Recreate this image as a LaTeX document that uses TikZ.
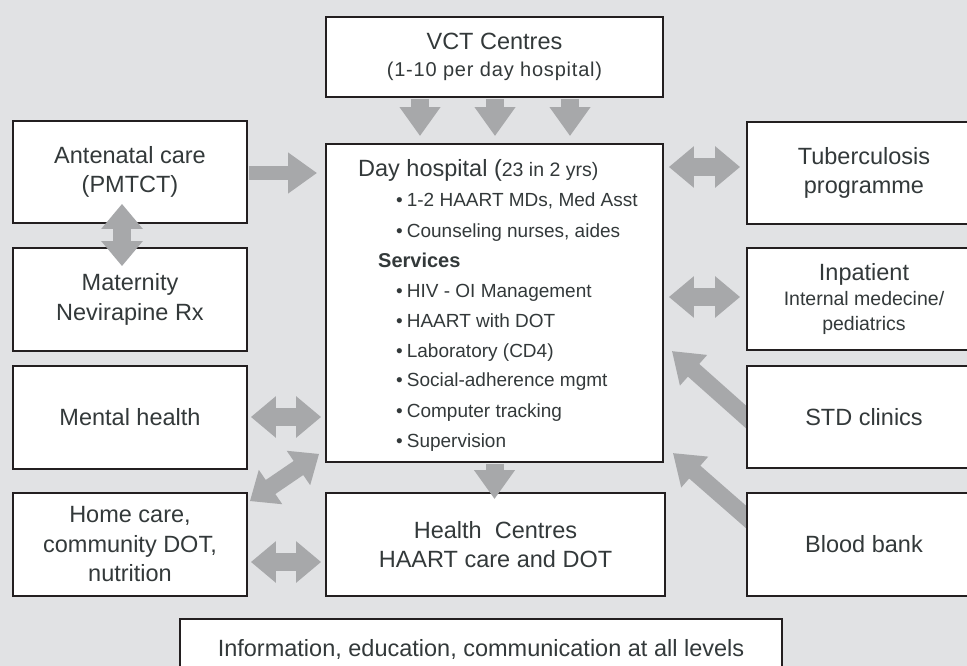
\documentclass[tikz,border=0pt]{standalone}
\usepackage{fontspec}
\setmainfont{Liberation Sans}
\usetikzlibrary{arrows.meta}
\definecolor{bgc}{HTML}{E1E2E4}
\definecolor{arrc}{HTML}{A7A8AA}
\definecolor{txt}{HTML}{33393A}
\definecolor{bord}{HTML}{231F20}
\pgfdeclarelayer{back}
\pgfdeclarelayer{mid}
\pgfsetlayers{back,mid,main}
\begin{document}
\begin{tikzpicture}[x=1pt,y=-1pt,
  box/.style={draw=bord, line width=1.8pt, fill=white, text=txt, align=center, inner sep=0pt,
    minimum width=234pt, minimum height=103pt, font=\fontsize{23.5}{29.5}\selectfont},
  blk/.style={draw=arrc, line width=18pt, -{Triangle[width=39pt,length=29pt]}},
  dbl/.style={draw=arrc, line width=18pt, {Triangle[width=40pt,length=25pt]}-{Triangle[width=40pt,length=25pt]}},
  dtxt/.style={anchor=base west, inner sep=0pt, text=txt, font=\fontsize{19}{24}\selectfont},
  small/.style={font=\fontsize{19.5}{24}\selectfont}]
\useasboundingbox (0,0) rectangle (967,666);
\begin{pgfonlayer}{back}
  \fill[bgc] (0,0) rectangle (967,666);
\end{pgfonlayer}

% boxes
\node[box, minimum width=337pt, minimum height=80pt] (vct) at (494.5,57)
  {VCT Centres\\[-2pt]{\fontsize{20}{24}\selectfont\addfontfeatures{LetterSpace=4}(1-10 per day hospital)}};
\node[box, minimum width=337pt, minimum height=318pt] (day) at (494.5,303) {};
\node[box, minimum height=102pt] (ante) at (130,172) {Antenatal care\\(PMTCT)};
\node[box] (mat) at (130,299.5) {Maternity\\Nevirapine Rx};
\node[box] (mental) at (130,417.5) {Mental health};
\node[box] (home) at (130,544.5) {Home care,\\community DOT,\\nutrition};
\node[box, minimum width=339pt] (hc) at (495.5,544.5) {Health\ \ Centres\\HAART care and DOT};
\node[box, minimum height=102pt] (tb) at (864,173) {Tuberculosis\\programme};
\node[box, minimum height=102pt] (inp) at (864,299)
  {Inpatient\\[-4pt]{\fontsize{19.5}{24}\selectfont Internal medecine/}\\[-5pt]{\fontsize{19.5}{24}\selectfont pediatrics}};
\node[box, minimum height=102pt] (std) at (864,417) {STD clinics};
\node[box] (blood) at (864,544.5) {Blood bank};
\node[box, minimum width=602pt, minimum height=61pt] (info) at (481,649.5)
  {Information, education, communication at all levels};

% day hospital contents
\node[dtxt, font=\fontsize{23.5}{29}\selectfont] (d0) at (358,176) {Day hospital ({\fontsize{19.5}{24}\selectfont 23 in 2 yrs)}};
\node[dtxt] (d1) at (396,207) {\textbullet\hspace{4pt}1-2 HAART MDs, Med Asst};
\node[dtxt] (d2) at (396,237) {\textbullet\hspace{4pt}Counseling nurses, aides};
\node[dtxt, font=\fontsize{20}{24}\selectfont\bfseries] (ds) at (378,267) {Services};
\node[dtxt] (d3) at (396,297) {\textbullet\hspace{4pt}HIV - OI Management};
\node[dtxt] (d4) at (396,327) {\textbullet\hspace{4pt}HAART with DOT};
\node[dtxt] (d5) at (396,357) {\textbullet\hspace{4pt}Laboratory (CD4)};
\node[dtxt] (d6) at (396,386) {\textbullet\hspace{4pt}Social-adherence mgmt};
\node[dtxt] (d7) at (396,417) {\textbullet\hspace{4pt}Computer tracking};
\node[dtxt] (d8) at (396,447) {\textbullet\hspace{4pt}Supervision};

% arrows
\foreach \dx in {-74.5,0.5,75.5}
  \draw[blk, shorten <=1pt, shorten >=7pt] ([xshift=\dx pt]vct.south) -- ([xshift=\dx pt]day.north);
\draw[blk, line width=14pt, shorten <=1pt, shorten >=8pt] ([yshift=-1pt]ante.east) -- ([yshift=-1pt]ante.east -| day.west);
\draw[dbl, shorten <=-20pt, shorten >=-19pt] ([xshift=-8pt]ante.south) -- ([xshift=-8pt]mat.north);
\draw[dbl, shorten <=5pt, shorten >=6pt] ([yshift=6pt]tb.west -| day.east) -- ([yshift=6pt]tb.west);
\draw[dbl, shorten <=5pt, shorten >=6pt] ([yshift=2pt]inp.west -| day.east) -- ([yshift=2pt]inp.west);
\draw[dbl, shorten <=3pt, shorten >=4pt] ([yshift=0.5pt]mental.east) -- ([yshift=0.5pt]mental.east -| day.west);
\draw[dbl, line width=17pt] ([shift={(2,9)}]home.north east) -- ([shift={(-6,-9)}]day.south west);
\draw[dbl, shorten <=3pt, shorten >=4pt] ([yshift=-17.5pt]home.east) -- ([yshift=-17.5pt]home.east -| hc.west);
\draw[blk, shorten <=1pt, shorten >=-7pt] (day.south) -- (day.south |- hc.north);
\begin{pgfonlayer}{mid}
  \draw[blk, line width=17pt, shorten <=-14pt] (std.west) -- ([shift={(8,48)}]day.east);
  \draw[blk, line width=17pt, shorten <=-14pt] ([yshift=27.5pt]blood.west) -- ([shift={(9,150)}]day.east);
\end{pgfonlayer}
\end{tikzpicture}
\end{document}
